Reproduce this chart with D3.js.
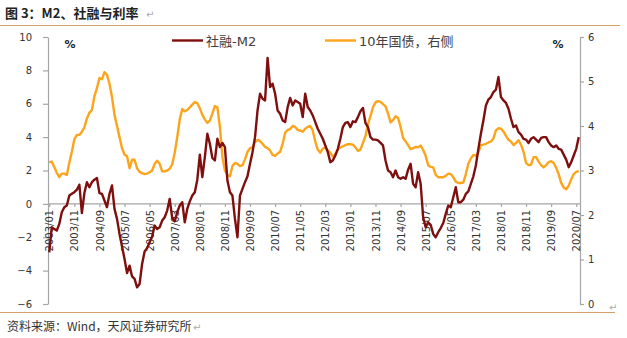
<!DOCTYPE html>
<html>
<head>
<meta charset="utf-8">
<script src="https://cdn.jsdelivr.net/npm/d3@7/dist/d3.min.js"></script>
<style>
  body { margin: 0; background: #fff; }
  svg { display: block; font-family: "DejaVu Sans", "Noto Sans CJK SC", sans-serif; }
</style>
</head>
<body>
<svg id="chart" width="627" height="338"></svg>
<script>
// ===== DATA =====
// Monthly series, 2003/01 - 2020/08
const firstYear = 2003;
const monthCount = 212;
const months = [];
for (let i = 0; i < monthCount; i++) {
    const y = firstYear + Math.floor(i / 12);
    const m = (i % 12) + 1;
    months.push(`${y}/${m < 10 ? '0' + m : m}`);
}

const tickLabels = [
    '2003/01', '2003/11', '2004/09', '2005/07', '2006/05', '2007/03', '2008/01', '2008/11',
    '2009/09', '2010/07', '2011/05', '2012/03', '2013/01', '2013/11', '2014/09', '2015/07',
    '2016/05', '2017/03', '2018/01', '2018/11', '2019/09', '2020/07'
];

// 社融-M2 (left axis, %)
const tsfMinusM2 = [
    -2.9, -1.4, -1.5, -1.6, -1.2, -0.5, -0.2, -0.1, 0.5, 0.6, 0.7, 0.85,
    1.15, -0.55, 0.65, 1.3, 1.0, 1.3, 1.45, 1.55, 0.65, 0.6, 0.2, -0.2,
    0.6, 1.1, -0.3, -0.9, -1.8, -2.55, -3.3, -4.15, -3.7, -4.35, -4.5, -5.0,
    -4.8, -3.6, -2.85, -2.65, -2.3, -1.95, -1.3, -1.5, -1.4, -1.0, -0.8, -0.4,
    0.3, -0.85, -1.05, -0.5, -0.1, 0.1, -1.1, -0.3, 0.15, 0.5, 0.7, 1.45,
    2.95, 1.6, 2.8, 4.2, 3.6, 2.75, 2.6, 3.9, 3.4, 3.65, 3.4, 1.4,
    0.7, 0.5, -0.9, -2.0, 0.5, 0.9, 1.3, 1.65, 2.4, 3.1, 4.0, 5.6,
    6.6, 6.3, 6.2, 8.75, 7.0, 7.2, 6.6, 5.6, 5.4, 5.0, 4.9, 5.8,
    6.35, 5.9, 6.2, 6.1, 6.0, 5.2, 6.6, 5.8, 5.6, 5.3, 4.9, 4.5,
    4.2, 3.9, 3.5, 3.1, 2.5, 2.6, 2.9, 3.3, 3.9, 4.6, 4.85, 4.9,
    4.6, 4.95, 4.9, 5.2, 5.55, 5.75, 4.85, 4.6, 4.0, 3.85, 3.85, 3.8,
    3.65, 3.5, 2.6, 2.0, 1.9, 1.6, 2.0, 1.6, 1.5, 1.6, 1.5, 2.05,
    2.4, 1.2, 1.0, 1.9, 1.2, -0.8, -1.4, -1.1, -1.25, -1.8, -2.0, -1.7,
    -1.45, -1.15, -0.6, -0.1, -0.2, 0.4, 1.0, 0.1, 0.1, 0.25, 0.6, 0.75,
    1.2, 1.65, 2.3, 3.3, 4.2, 5.0, 5.9, 6.25, 6.4, 6.7, 6.85, 7.6,
    6.4, 6.2, 6.05, 5.7, 5.1, 4.6, 4.7, 4.3, 4.15, 3.9, 3.85, 3.65,
    3.9, 4.0, 3.85, 3.7, 3.95, 4.0, 4.0, 3.7, 3.5, 3.4, 3.5, 3.3,
    3.25, 2.95, 2.65, 2.2, 2.5, 2.9, 3.3, 4.0
];

// 10年国债 (right axis, %)
const bond10y = [
    3.18, 3.2, 3.08, 2.95, 2.85, 2.93, 2.93, 2.9, 3.18, 3.42, 3.7, 3.8,
    3.8, 3.87, 3.97, 4.17, 4.3, 4.36, 4.67, 4.85, 5.08, 5.05, 5.21, 5.15,
    4.95, 4.65, 4.25, 4.0, 3.75, 3.5, 3.36, 3.32, 3.05, 3.24, 3.24, 3.05,
    2.97, 2.94, 2.92, 2.93, 2.96, 3.0, 3.15, 3.22, 3.15, 2.98, 2.98, 3.0,
    3.04, 3.14, 3.4, 3.75, 4.15, 4.38, 4.33, 4.36, 4.42, 4.48, 4.54, 4.51,
    4.4, 4.25, 4.15, 4.07, 4.12, 4.28, 4.45, 4.42, 3.98, 3.3, 3.0, 2.9,
    2.87, 3.1, 3.17, 3.15, 3.1, 3.12, 3.25, 3.42, 3.5, 3.52, 3.64, 3.69,
    3.66, 3.6, 3.53, 3.5, 3.45, 3.35, 3.33, 3.38, 3.42, 3.6, 3.85, 3.91,
    3.93, 4.0, 3.98, 3.91, 3.9, 3.87, 3.94, 3.98, 4.0, 3.9, 3.65, 3.47,
    3.4, 3.49, 3.52, 3.45, 3.4, 3.31, 3.37, 3.47, 3.52, 3.54, 3.57, 3.59,
    3.59, 3.58, 3.52, 3.44, 3.47, 3.62, 3.77, 4.04, 4.22, 4.42, 4.53, 4.56,
    4.54, 4.49, 4.44, 4.28, 4.08, 4.13, 4.22, 4.18, 3.98, 3.73, 3.66, 3.57,
    3.48, 3.5, 3.53, 3.52, 3.56, 3.46, 3.33, 3.12, 3.08, 3.07, 2.9, 2.85,
    2.85, 2.85, 2.88, 2.93, 2.92, 2.85, 2.75, 2.72, 2.72, 2.73, 2.92, 3.15,
    3.27, 3.35, 3.33, 3.4, 3.57, 3.58, 3.6, 3.63, 3.65, 3.72, 3.9, 3.95,
    3.94, 3.88, 3.78, 3.69, 3.65, 3.57, 3.62, 3.68, 3.58, 3.42, 3.17, 3.12,
    3.13, 3.3, 3.3, 3.2, 3.12, 3.07, 3.12, 3.19, 3.21, 3.17, 3.06, 2.92,
    2.72, 2.62, 2.58, 2.66, 2.8, 2.92, 2.97, 2.99
];

const leftTicks = [-6, -4, -2, 0, 2, 4, 6, 8, 10];
const rightTicks = [0, 1, 2, 3, 4, 5, 6];

// ===== STYLE =====
const MAROON = '#7f0f0f';
const ORANGE = '#fca41c';
const AXIS = '#a6a6a6';
const LABEL = '#333333';
const RULE = '#d6a06a';

// ===== LAYOUT =====
const plot = { left: 48, right: 580, top: 37, bottom: 304 };

const svg = d3.select('#chart');

// Header and footer
svg.append('text')
    .attr('x', 5).attr('y', 18)
    .style('font-size', '13px').style('font-weight', 'bold')
    .style('font-family', '"Noto Sans CJK SC", sans-serif')
    .style('fill', '#222')
    .text('图 3：M2、社融与利率');
svg.append('text')
    .attr('x', 146).attr('y', 18)
    .style('font-size', '10px').style('fill', '#aaa')
    .text('↵');

svg.append('line')
    .attr('x1', 0).attr('x2', 620).attr('y1', 25.5).attr('y2', 25.5)
    .attr('stroke', RULE).attr('stroke-width', 1.2);
svg.append('line')
    .attr('x1', 0).attr('x2', 615).attr('y1', 312.5).attr('y2', 312.5)
    .attr('stroke', RULE).attr('stroke-width', 1.2);

svg.append('text')
    .attr('x', 7).attr('y', 331)
    .style('font-size', '12px')
    .style('font-family', '"Noto Sans CJK SC", sans-serif')
    .style('fill', '#333')
    .text('资料来源：Wind，天风证券研究所');
svg.append('text')
    .attr('x', 193).attr('y', 331)
    .style('font-size', '10px').style('fill', '#aaa')
    .text('↵');
svg.append('text')
    .attr('x', 609).attr('y', 311)
    .style('font-size', '10px').style('fill', '#aaa')
    .text('↵');

// ===== SCALES =====
const x = d3.scalePoint()
    .domain(months)
    .range([plot.left, plot.right])
    .padding(0.5);

const yLeft = d3.scaleLinear().domain([-6, 10]).range([plot.bottom, plot.top]);
const yRight = d3.scaleLinear().domain([0, 6]).range([plot.bottom, plot.top]);

// ===== AXES =====
function styleAxis(g) {
    g.select('.domain').attr('stroke', AXIS).attr('stroke-width', 1.2);
    g.selectAll('.tick line').attr('stroke', AXIS).attr('stroke-width', 1.2);
    g.selectAll('.tick text').style('fill', LABEL).style('font-size', '10px');
}

svg.append('g')
    .attr('transform', `translate(${plot.left},0)`)
    .call(d3.axisLeft(yLeft).tickValues(leftTicks).tickFormat(d3.format('d'))
        .tickSize(5).tickPadding(11).tickSizeOuter(0))
    .call(styleAxis)
    .attr('font-family', null);

svg.append('g')
    .attr('transform', `translate(${plot.right},0)`)
    .call(d3.axisRight(yRight).tickValues(rightTicks).tickFormat(d3.format('d'))
        .tickSize(4).tickPadding(4).tickSizeOuter(0))
    .call(styleAxis)
    .attr('font-family', null);

const xAxis = svg.append('g')
    .attr('transform', `translate(0,${yLeft(0)})`)
    .call(d3.axisBottom(x).tickValues(tickLabels).tickSize(3).tickSizeOuter(0))
    .call(styleAxis)
    .attr('font-family', null);

xAxis.select('.domain').attr('d', `M${plot.left},0H${plot.right}`);
xAxis.selectAll('.tick text')
    .attr('y', 0)
    .attr('x', -6)
    .attr('dy', '0.36em')
    .attr('transform', 'rotate(-90)')
    .style('text-anchor', 'end');

// Unit labels
svg.append('text')
    .attr('x', 70).attr('y', 48)
    .attr('text-anchor', 'middle')
    .style('font-size', '11px').style('font-weight', 'bold').style('fill', '#222')
    .text('%');
svg.append('text')
    .attr('x', 558).attr('y', 48)
    .attr('text-anchor', 'middle')
    .style('font-size', '11px').style('font-weight', 'bold').style('fill', '#222')
    .text('%');

// ===== LINES =====
const lineLeft = d3.line()
    .x((d, i) => x(months[i]))
    .y(d => yLeft(d));

const lineRight = d3.line()
    .x((d, i) => x(months[i]))
    .y(d => yRight(d));

svg.append('path')
    .datum(bond10y)
    .attr('fill', 'none')
    .attr('stroke', ORANGE)
    .attr('stroke-width', 2.4)
    .attr('stroke-linejoin', 'round')
    .attr('d', lineRight);

svg.append('path')
    .datum(tsfMinusM2)
    .attr('fill', 'none')
    .attr('stroke', MAROON)
    .attr('stroke-width', 2.4)
    .attr('stroke-linejoin', 'round')
    .attr('d', lineLeft);

// ===== LEGEND =====
const legendItems = [
    { label: '社融-M2', color: MAROON, x: 172 },
    { label: '10年国债，右侧', color: ORANGE, x: 325 }
];

const legend = svg.append('g').attr('class', 'legend');
legendItems.forEach(item => {
    legend.append('line')
        .attr('x1', item.x).attr('x2', item.x + 31)
        .attr('y1', 40.5).attr('y2', 40.5)
        .attr('stroke', item.color).attr('stroke-width', 2.4);
    legend.append('text')
        .attr('x', item.x + 34).attr('y', 45.5)
        .style('font-size', '13px')
        .style('fill', '#404040')
        .text(item.label);
});
</script>
</body>
</html>
